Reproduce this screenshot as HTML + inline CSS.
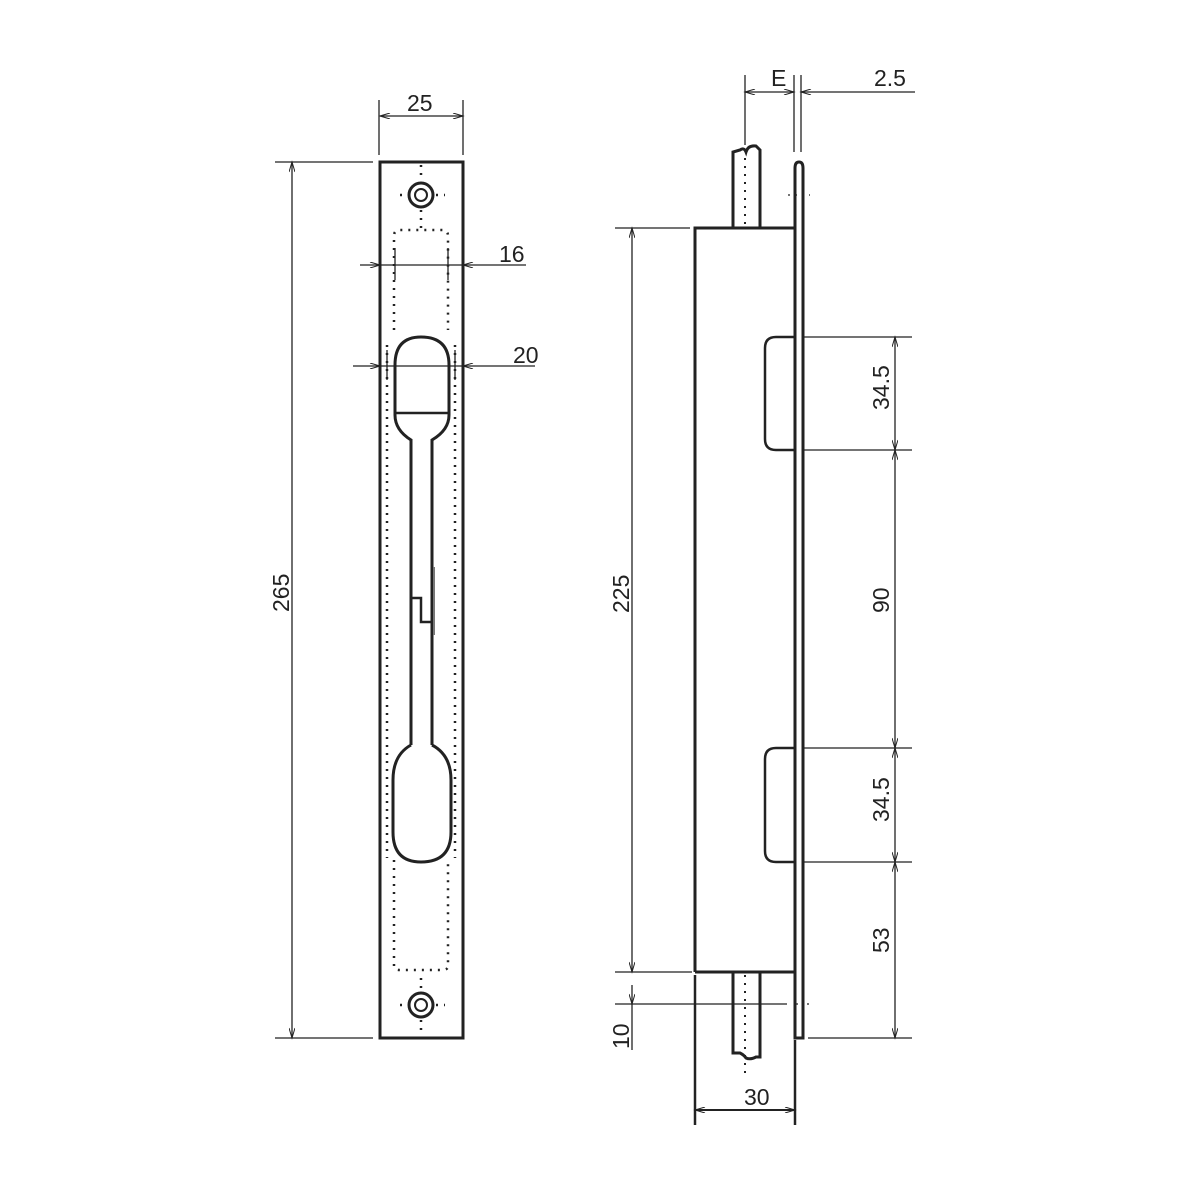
<!DOCTYPE html>
<html><head><style>body{margin:0;background:#fff}svg{display:block}text{font-family:"Liberation Sans",sans-serif;font-size:23px;fill:#222}</style></head>
<body>
<svg width="1200" height="1200" viewBox="0 0 1200 1200" xmlns="http://www.w3.org/2000/svg">
<defs>
<marker id="a" viewBox="0 0 10 6" refX="10" refY="3" markerWidth="14" markerHeight="6" markerUnits="userSpaceOnUse" orient="auto-start-reverse"><path d="M0,0 L10,3 L0,6" fill="none" stroke="#222" stroke-width="1"/></marker>
</defs>
<g stroke="#222" fill="none">
<!-- LEFT VIEW -->
<rect x="380" y="162" width="83" height="876" stroke-width="3"/>
<g stroke-width="3"><circle cx="421" cy="195" r="12"/><circle cx="421" cy="1005" r="12"/></g>
<g stroke-width="2"><circle cx="421" cy="195" r="6"/><circle cx="421" cy="1005" r="6"/></g>
<g stroke-width="2.5" stroke-dasharray="2 6">
<path d="M394,330 V236 Q394,230 400,230 H442 Q448,230 448,236 V330"/>
<path d="M394,860 V966 Q394,970 400,970 H442 Q448,970 448,966 V860"/>
<path d="M387,345 V858"/><path d="M455,345 V858"/>
<path d="M421,165 V180 M421,210 V232 M421,978 V990 M421,1020 V1035 M400,195 H405 M436,195 H445 M400,1005 H405 M436,1005 H445"/>
</g>
<!-- slot -->
<path d="M411,455 V440 Q395,430 395,415 V365 Q395,337 421,337 Q449,337 449,365 V415 Q449,430 432,440 V455" stroke-width="3"/>
<line x1="395" y1="413" x2="449" y2="413" stroke-width="2.5"/>
<path d="M411,455 V745 M432,455 V745" stroke-width="3"/>
<path d="M411,598 H421 V622 H432" stroke-width="2.5"/>
<line x1="434" y1="567" x2="434" y2="635" stroke-width="2" stroke="#777"/>
<path d="M411,745 Q393,755 393,780 V832 Q393,862 421,862 Q451,862 451,832 V780 Q451,755 432,745" stroke-width="3"/>
<!-- left dims -->
<g stroke-width="1.3">
<line x1="275" y1="162" x2="373" y2="162"/><line x1="275" y1="1038" x2="373" y2="1038"/>
<line x1="292" y1="162" x2="292" y2="1038" marker-start="url(#a)" marker-end="url(#a)"/>
<line x1="379" y1="100" x2="379" y2="155"/><line x1="463" y1="100" x2="463" y2="155"/>
<line x1="380" y1="116" x2="463" y2="116" marker-start="url(#a)" marker-end="url(#a)"/>
<line x1="360" y1="265" x2="380" y2="265" marker-end="url(#a)"/><line x1="526" y1="265" x2="463" y2="265" marker-end="url(#a)"/><line x1="380" y1="265" x2="463" y2="265"/>
<line x1="395" y1="248" x2="395" y2="280"/><line x1="448" y1="248" x2="448" y2="280"/>
<line x1="353" y1="366" x2="380" y2="366" marker-end="url(#a)"/><line x1="535" y1="366" x2="463" y2="366" marker-end="url(#a)"/><line x1="380" y1="366" x2="463" y2="366"/>
<line x1="387" y1="350" x2="387" y2="380"/><line x1="455" y1="350" x2="455" y2="380"/>
</g>
<!-- RIGHT VIEW -->
<path d="M695,972 V228 H795" stroke-width="3"/>
<line x1="695" y1="972" x2="795" y2="972" stroke-width="3"/>
<path d="M795,1038 V168 Q795,162 799,162 Q803,162 803,168 V1038 Z" stroke-width="3"/>
<!-- rods -->
<path d="M733,228 V152 L740,150 Q744,147 746,152 Q748,145 756,146 L760,150 V228" stroke-width="3"/>
<path d="M733,972 V1053 L740,1053 Q744,1055 746,1058 Q750,1060 756,1057 L760,1057 V972" stroke-width="3"/>
<path d="M745,158 V225 M745,975 V1075" stroke-width="2" stroke-dasharray="2 6"/>
<!-- notches -->
<path d="M795,337 H776 Q765,337 765,348 V439 Q765,450 776,450 H795" stroke-width="2.5"/>
<path d="M795,748 H776 Q765,748 765,759 V851 Q765,862 776,862 H795" stroke-width="2.5"/>
<g stroke-width="1.3">
<line x1="745" y1="75" x2="745" y2="145"/><line x1="794" y1="75" x2="794" y2="152"/><line x1="801" y1="75" x2="801" y2="152"/>
<line x1="745" y1="92" x2="794" y2="92" marker-start="url(#a)" marker-end="url(#a)"/>
<line x1="915" y1="92" x2="801" y2="92" marker-end="url(#a)"/>
<line x1="788" y1="195" x2="810" y2="195" stroke-dasharray="2 5"/>
<line x1="803" y1="337" x2="912" y2="337"/><line x1="803" y1="450" x2="912" y2="450"/><line x1="803" y1="748" x2="912" y2="748"/><line x1="803" y1="862" x2="912" y2="862"/><line x1="808" y1="1038" x2="912" y2="1038"/>
<line x1="895" y1="337" x2="895" y2="450" marker-start="url(#a)" marker-end="url(#a)"/>
<line x1="895" y1="450" x2="895" y2="748" marker-start="url(#a)" marker-end="url(#a)"/>
<line x1="895" y1="748" x2="895" y2="862" marker-start="url(#a)" marker-end="url(#a)"/>
<line x1="895" y1="862" x2="895" y2="1038" marker-start="url(#a)" marker-end="url(#a)"/>
<line x1="615" y1="228" x2="690" y2="228"/><line x1="615" y1="972" x2="692" y2="972"/>
<line x1="632" y1="228" x2="632" y2="972" marker-start="url(#a)" marker-end="url(#a)"/>
<line x1="615" y1="1004" x2="785" y2="1004"/><line x1="785" y1="1004" x2="818" y2="1004" stroke-dasharray="2 9"/>
<line x1="632" y1="1004" x2="632" y2="1050"/><line x1="632" y1="985" x2="632" y2="1004" marker-end="url(#a)"/>
<line x1="695" y1="975" x2="695" y2="1125" stroke-width="2.5"/><line x1="795" y1="1040" x2="795" y2="1125" stroke-width="2.5"/>
<line x1="695" y1="1110" x2="795" y2="1110" stroke-width="2" marker-start="url(#a)" marker-end="url(#a)"/>
</g>
</g>
<text x="407" y="111">25</text>
<text x="499" y="262">16</text>
<text x="513" y="363">20</text>
<text transform="translate(289,612) rotate(-90)">265</text>
<text x="771" y="86">E</text>
<text x="874" y="86">2.5</text>
<text transform="translate(889,410) rotate(-90)">34.5</text>
<text transform="translate(889,613) rotate(-90)">90</text>
<text transform="translate(889,822) rotate(-90)">34.5</text>
<text transform="translate(889,953) rotate(-90)">53</text>
<text transform="translate(629,613) rotate(-90)">225</text>
<text transform="translate(629,1049) rotate(-90)">10</text>
<text x="744" y="1105">30</text>
</svg>
</body></html>
